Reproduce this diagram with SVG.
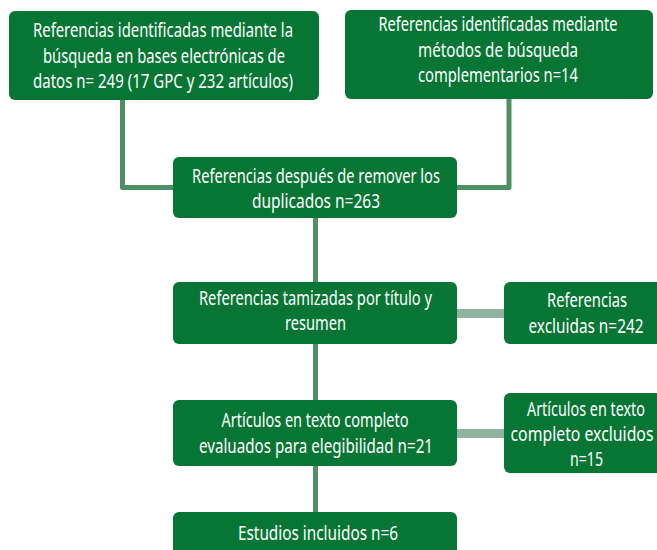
<svg xmlns="http://www.w3.org/2000/svg" width="657" height="550" viewBox="0 0 657 550">
<style>
.box{fill:#077634;}
.t{font-family:"Noto Sans","Liberation Sans",sans-serif;font-size:19.5px;fill:#ffffff;text-anchor:middle;}
.c1{stroke:#4e8f66;stroke-width:5;fill:none;stroke-linejoin:round;}
.c2{stroke:#8fb39c;stroke-width:9;fill:none;}
</style>
<rect width="657" height="550" fill="#ffffff"/>
<g id="connectors">
<path class="c1" d="M122.5 100 V187.5 H174"/>
<path class="c1" d="M509 99 V187.5 H457"/>
<path class="c1" d="M315.5 217 V512"/>
<path class="c2" d="M457 313.5 H504"/>
<path class="c2" d="M457 433.5 H504"/>
</g>
<g id="n1">
<rect class="box" x="9" y="11" width="310" height="89" rx="6"/>
<text class="t" x="163" y="37" textLength="260" lengthAdjust="spacingAndGlyphs">Referencias identificadas mediante la</text>
<text class="t" x="164" y="62.5" textLength="242" lengthAdjust="spacingAndGlyphs">búsqueda en bases electrónicas de</text>
<text class="t" x="163" y="88" textLength="260" lengthAdjust="spacingAndGlyphs">datos n= 249 (17 GPC y 232 artículos)</text>
</g>
<g id="n2">
<rect class="box" x="345" y="10" width="308" height="89" rx="6"/>
<text class="t" x="498" y="31" textLength="239" lengthAdjust="spacingAndGlyphs">Referencias identificadas mediante</text>
<text class="t" x="498" y="56.5" textLength="160" lengthAdjust="spacingAndGlyphs">métodos de búsqueda</text>
<text class="t" x="498" y="82" textLength="160" lengthAdjust="spacingAndGlyphs">complementarios n=14</text>
</g>
<g id="n3">
<rect class="box" x="173" y="157" width="284" height="61" rx="6"/>
<text class="t" x="316" y="183" textLength="248" lengthAdjust="spacingAndGlyphs">Referencias después de remover los</text>
<text class="t" x="316" y="208" textLength="128" lengthAdjust="spacingAndGlyphs">duplicados n=263</text>
</g>
<g id="n4">
<rect class="box" x="173" y="282" width="284" height="62" rx="6"/>
<text class="t" x="315.5" y="305" textLength="233" lengthAdjust="spacingAndGlyphs">Referencias tamizadas por título y</text>
<text class="t" x="315.5" y="330" textLength="61" lengthAdjust="spacingAndGlyphs">resumen</text>
</g>
<g id="n5">
<rect class="box" x="504" y="282" width="170" height="62" rx="6"/>
<text class="t" x="587" y="307" textLength="80" lengthAdjust="spacingAndGlyphs">Referencias</text>
<text class="t" x="586" y="333" textLength="115" lengthAdjust="spacingAndGlyphs">excluidas n=242</text>
</g>
<g id="n6">
<rect class="box" x="173" y="400" width="284" height="66" rx="6"/>
<text class="t" x="315" y="427" textLength="187" lengthAdjust="spacingAndGlyphs">Artículos en texto completo</text>
<text class="t" x="316" y="453" textLength="234" lengthAdjust="spacingAndGlyphs">evaluados para elegibilidad n=21</text>
</g>
<g id="n7">
<rect class="box" x="504" y="393" width="170" height="80" rx="6"/>
<text class="t" x="586" y="416" textLength="118" lengthAdjust="spacingAndGlyphs">Artículos en texto</text>
<text class="t" x="582" y="441" textLength="143" lengthAdjust="spacingAndGlyphs">completo excluidos</text>
<text class="t" x="586.5" y="466" textLength="33" lengthAdjust="spacingAndGlyphs">n=15</text>
</g>
<g id="n8">
<rect class="box" x="173" y="512" width="284" height="50" rx="6"/>
<text class="t" x="318" y="540" textLength="160" lengthAdjust="spacingAndGlyphs">Estudios incluidos n=6</text>
</g>
</svg>
